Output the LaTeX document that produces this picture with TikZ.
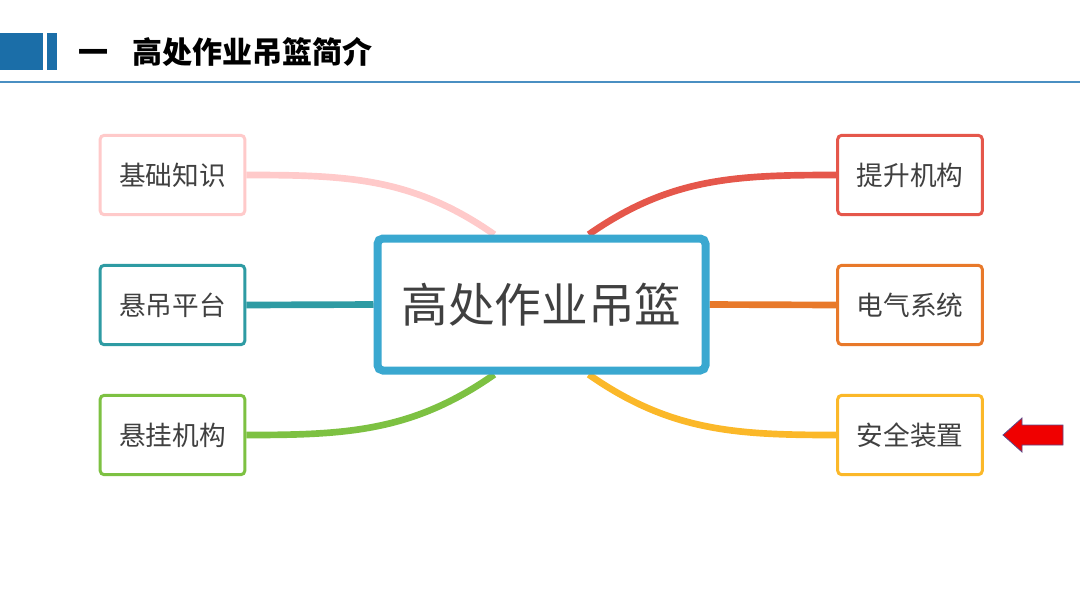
\documentclass[tikz,border=0pt]{standalone}
\usepackage{fontspec}
\setmainfont{Noto Sans CJK SC}
\usepackage{tikz}
\usetikzlibrary{positioning,arrows.meta,calc,backgrounds}
\usepackage{xcolor}
\definecolor{hdblue}{HTML}{1B6EA8}
\definecolor{hdline}{HTML}{4A8FC2}
\definecolor{txtgray}{HTML}{404040}
\definecolor{cmain}{HTML}{3AA8D0}
\definecolor{cpink}{HTML}{FFCACA}
\definecolor{cteal}{HTML}{2E9BA3}
\definecolor{cgreen}{HTML}{7DC142}
\definecolor{cred}{HTML}{E5574B}
\definecolor{corange}{HTML}{E8792A}
\definecolor{cyellow}{HTML}{FBB829}
\definecolor{arrred}{HTML}{F00000}
\definecolor{arredge}{HTML}{5B4A8A}

\begin{document}
\begin{tikzpicture}[
  x=0.75pt, y=-0.75pt,
  topic/.style={draw, rounded corners=3pt, line width=2.25pt, fill=white, text=txtgray,
    minimum width=108.5pt, minimum height=59.5pt, font=\fontsize{20}{24}\selectfont},
  hub/.style={draw=cmain, rounded corners=4pt, line width=6pt, fill=white, text=txtgray,
    minimum width=246pt, minimum height=99pt, font=\fontsize{35}{40}\selectfont},
  branch/.style={line width=5pt},
]
\useasboundingbox (0,0) rectangle (1080,608);
% header
\fill[hdblue] (0,33) rectangle (43,70);
\fill[hdblue] (47,33) rectangle (57,70);
\node[anchor=west, font=\fontsize{22.5}{26}\selectfont\bfseries] (title) at (74,52) {一\hspace{18pt}高处作业吊篮简介};
\draw[hdline, line width=1.5pt] (0,82) -- (1080,82);

\node[hub] (basket) at (541.5,304.5) {高处作业吊篮};
\node[topic, draw=cpink] (basic) at (172.5,175) {基础知识};
\node[topic, draw=cteal] (platform) at (172.5,305) {悬吊平台};
\node[topic, draw=cgreen] (suspend) at (172.5,435) {悬挂机构};
\node[topic, draw=cred] (hoist) at (910,175) {提升机构};
\node[topic, draw=corange] (electric) at (910,305) {电气系统};
\node[topic, draw=cyellow] (safety) at (910,435) {安全装置};

\begin{scope}[on background layer]
\draw[branch, cpink] (basic.east) to[out=0, in=145] (basket.124);
\draw[branch, cteal] (platform.east) -- (basket.west);
\draw[branch, cgreen] (suspend.east) to[out=0, in=215] (basket.236);
\draw[branch, cred] (hoist.west) to[out=180, in=35] (basket.56);
\draw[branch, corange] (electric.west) -- (basket.east);
\draw[branch, cyellow] (safety.west) to[out=180, in=-35] (basket.304);
\end{scope}

% marker arrow
\draw[fill=arrred, draw=arredge, line width=0.6pt]
  (1003,435) -- (1022,418) -- (1022,425) -- (1063,425) -- (1063,445)
  -- (1022,445) -- (1022,452) -- cycle;
\end{tikzpicture}
\end{document}
